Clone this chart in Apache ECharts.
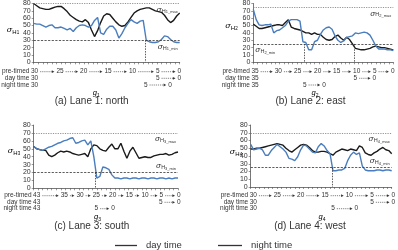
<!DOCTYPE html>
<html>
<head>
<meta charset="utf-8">
<script src="https://cdn.jsdelivr.net/npm/echarts@6/dist/echarts.min.js"></script>
<style>
html, body { margin: 0; padding: 0; background: #fff; }
#main { width: 398px; height: 250px; }
</style>
</head>
<body>
<div id="main"></div>
<script>
// sigma_H per lane, sampled evenly along the cycle (49 samples each)
var dayLane1 = [80,77,74,73,72,72,73.5,75,76,76,73,69,64,61,58,56,55,58,54,44,35,43,54,63,66,65,60,55,51,49,50,55,61,67,70,72,73,74,74,72,70,69,68,64,58,54,57,63,67];
var nightLane1 = [53,52,52,50,48,50,51,47,47,48,46,44,46,42,47,50,51,50,48,50,57,61,40,38,45,49,49,44,33,39,47,53,58,55,53,56,57,30,28,27,27,28,31,36,35,31,28,27,27];
var dayLane2 = [52,49,46,46,47,48,49,50,51,51,50,54,58,48,46,45,44,42,40,40,38,40,38,38,34,31,30,31,35,37,33,30,34,31,25,19,18,17,17,18,19,21,22,21,20,20,19,18,17];
var nightLane2 = [72,58,51,50,51,51,52,40,43,44,47,50,56,58,58,58,56,28,27,17,17,28,30,38,44,47,48,45,36,30,27,29,34,35,36,40,39,40,41,40,37,30,22,18,18,18,17,17,16];
var dayLane3 = [53,50,49,48,48,42,40,42,45,47,46,47,46,44,43,42,43,44,40,50,55,54,50,48,47,52,56,50,50,57,47,38,47,52,45,38,39,40,39,39,41,42,43,43,44,42,43,45,46];
var nightLane3 = [53,50,49,48,50,52,53,55,57,58,60,61,63,64,57,58,60,61,55,60,40,13,15,27,26,24,17,13,13,12,13,13,12,13,13,12,13,13,12,13,13,12,13,13,12,13,12,13,13];
var dayLane4 = [49,49,50,50,51,52,53,54,55,56,55,54,50,47,45,48,51,54,55,54,51,47,45,45,46,46,45,43,41,45,47,49,48,47,49,48,47,53,51,44,42,41,44,46,49,51,48,47,43];
var nightLane4 = [55,48,49,50,48,41,41,47,51,55,52,49,45,37,36,34,39,48,54,53,49,45,44,52,56,53,47,43,21,21,22,22,24,34,41,45,42,44,27,22,21,21,21,22,22,21,22,22,21];

// thresholds and switch points (x in sample index)
var sigmaMax = [80, 75, 70, 70];
var sigmaMin = [30, 25, 20, 25];
var switchAt = [[36.8], [17.5, 34.6], [20.5], [27.8]];

// green-time labels under each panel
var preTimed1 = [30,25,20,15,10,5,0], dayG1 = [30,5,0], nightG1 = [30,5,0];
var preTimed2 = [35,30,25,20,15,10,5,0], dayG2 = [35,5,0], nightG2 = [35,5,0];
var preTimed3 = [43,35,30,25,20,15,10,5,0], dayG3 = [43,5,0], nightG3 = [43,5,0];
var preTimed4 = [30,25,20,15,10,5,0], dayG4 = [30,5,0], nightG4 = [30,5,0];
var captions = ['(a) Lane 1: north', '(b) Lane 2: east', '(c) Lane 3: south', '(d) Lane 4: west'];

var FONT = '"Liberation Sans", Arial, sans-serif';
var BLACK = '#1a1a1a', BLUE = '#4a7dbd', TXT = '#333';

var panels = [
  { box: {left: 33.7, top: 0.7, width: 146, height: 61.6}, day: dayLane1, night: nightLane1,
    rows: [preTimed1, dayG1, nightG1], xs: [[34.5,60,83.7,108,132.5,157.7,179.3],[34.5,157.7,179.3],[34.5,145.7,170]],
    rowY: [71.7, 78.3, 85], gX: 96.3, gY: 92.7, capX: 91.7, capY: 101.7, nameX: 13, nameY: 30,
    minPos: 'insideEndBottom' },
  { box: {left: 253.3, top: 0.7, width: 140, height: 61.6}, day: dayLane2, night: nightLane2,
    rows: [preTimed2, dayG2, nightG2], xs: [[255,278.3,297.7,317.7,336.7,356.7,374.7,392.7],[255,355.3,374.3],[255,304.7,324]],
    rowY: [71.7, 78.3, 85], gX: 315, gY: 92.7, capX: 310.5, capY: 101.7, nameX: 231.5, nameY: 26,
    minPos: 'insideStartBottom' },
  { box: {left: 33.7, top: 125.1, width: 144.3, height: 63.2}, day: dayLane3, night: nightLane3,
    rows: [preTimed3, dayG3, nightG3], xs: [[36.7,64.3,80,96.3,112.7,129.3,145,161.3,178.8],[36.7,160.7,178.8],[36.7,96.3,113]],
    rowY: [195.7, 202.3, 208.7], gX: 97.5, gY: 216.7, capX: 91.7, capY: 226.3, nameX: 14, nameY: 151,
    minPos: 'insideEndTop' },
  { box: {left: 250.7, top: 125, width: 141, height: 62}, day: dayLane4, night: nightLane4,
    rows: [preTimed4, dayG4, nightG4], xs: [[253.3,277.3,300.7,325,349.3,372,393.3],[253.3,372,393.3],[253.3,333,356.3]],
    rowY: [195.7, 202.3, 208.7], gX: 322, gY: 217.3, capX: 310, capY: 226.3, nameX: 236, nameY: 152,
    minPos: 'insideEndTop' }
];
var rowTitles = ['pre-timed', 'day time', 'night time'];

function sigmaRich(big, small, tiny) {
  return {
    s: {fontSize: big, fontStyle: 'italic', fontFamily: 'DejaVu Serif', color: TXT},
    h: {fontSize: small, fontFamily: FONT, color: TXT, verticalAlign: 'bottom', padding: [small * 0.5, 0, 0, 0]},
    n: {fontSize: tiny, fontFamily: FONT, color: TXT, verticalAlign: 'bottom', padding: [tiny * 1.1, 0, 0, 0]}
  };
}

function txt(x, y, text, size, align, extra) {
  var st = {text: text, fontSize: size, fontFamily: FONT, fill: TXT, align: align || 'center', verticalAlign: 'middle'};
  if (extra) for (var k in extra) st[k] = extra[k];
  return {type: 'text', x: x, y: y, silent: true, style: st};
}

function numWidth(v) { return String(v).length * 3.6; }

var grids = [], xAxes = [], yAxes = [], series = [], graphics = [];

panels.forEach(function (p, k) {
  grids.push(p.box);
  xAxes.push({
    gridIndex: k, type: 'value', min: 0, max: 48, interval: 1.5,
    axisLabel: {show: false}, splitLine: {show: false},
    axisLine: {lineStyle: {color: '#555', width: 0.8}},
    axisTick: {length: 2, lineStyle: {color: '#555', width: 0.6}}
  });
  yAxes.push({
    gridIndex: k, type: 'value', min: 0, max: 80, interval: 10,
    splitLine: {show: false},
    axisLine: {show: true, lineStyle: {color: '#555', width: 0.8}},
    axisTick: {show: true, length: 2, lineStyle: {color: '#555', width: 0.6}},
    axisLabel: {fontSize: 7, margin: 3, color: TXT, fontFamily: FONT}
  });

  var lane = k + 1;
  var marks = [
    {yAxis: sigmaMax[k], lineStyle: {type: [1.2, 1.2], color: '#777', width: 0.8},
     label: {show: true, position: 'insideEndBottom', distance: 2,
             formatter: '{s|σ}{h|H}{n|' + lane + '_max}', rich: sigmaRich(7.5, 5.5, 4)}},
    {yAxis: sigmaMin[k], lineStyle: {type: [2.2, 1.4], color: '#333', width: 0.8},
     label: {show: true, position: p.minPos, distance: 2,
             formatter: '{s|σ}{h|H}{n|' + lane + '_min}', rich: sigmaRich(7.5, 5.5, 4)}}
  ];
  switchAt[k].forEach(function (sx) {
    marks.push([
      {coord: [sx, sigmaMin[k]], lineStyle: {type: [1.5, 1.2], color: '#333', width: 0.8}, label: {show: false}},
      {coord: [sx, 0]}
    ]);
  });

  series.push({
    type: 'line', name: 'day time', xAxisIndex: k, yAxisIndex: k,
    data: p.day.map(function (v, i) { return [i, v]; }),
    symbol: 'none', lineStyle: {color: BLACK, width: 1.4}, itemStyle: {color: BLACK},
    markLine: {silent: true, symbol: ['none', 'none'], animation: false, data: marks}
  });
  series.push({
    type: 'line', name: 'night time', xAxisIndex: k, yAxisIndex: k,
    data: p.night.map(function (v, i) { return [i, v]; }),
    symbol: 'none', lineStyle: {color: BLUE, width: 1.4}, itemStyle: {color: BLUE}
  });

  // y axis name
  graphics.push({type: 'text', x: p.nameX, y: p.nameY, silent: true,
    style: {text: '{s|σ}{h|H}{n|' + lane + '}', rich: sigmaRich(8, 6, 4.5), align: 'center', verticalAlign: 'middle'}});

  // rows of green-time labels with arrows
  p.rows.forEach(function (vals, r) {
    var xs = p.xs[r], y = p.rowY[r];
    graphics.push(txt(xs[0] - numWidth(vals[0]) / 2 - 1.5, y, rowTitles[r], 6.5, 'right'));
    vals.forEach(function (v, i) {
      graphics.push(txt(xs[i], y, String(v), 6.5, 'center'));
      if (i > 0 && (r === 0 || i > 1)) {
        var a = xs[i - 1] + numWidth(vals[i - 1]) / 2 + 2;
        var b = xs[i] - numWidth(v) / 2 - 2;
        graphics.push({type: 'line', silent: true, shape: {x1: a, y1: y, x2: b - 2, y2: y},
          style: {stroke: TXT, lineWidth: 0.6, lineDash: [1.2, 0.9]}});
        graphics.push({type: 'polygon', silent: true,
          shape: {points: [[b - 2.6, y - 1.4], [b, y], [b - 2.6, y + 1.4]]}, style: {fill: TXT}});
      }
    });
  });

  graphics.push({type: 'text', x: p.gX, y: p.gY, silent: true,
    style: {text: '{g|g}{n|' + lane + '}', align: 'center', verticalAlign: 'middle',
      rich: {g: {fontSize: 7.5, fontStyle: 'italic', fontFamily: FONT, color: TXT},
             n: {fontSize: 5, fontFamily: FONT, color: TXT, verticalAlign: 'bottom', padding: [5, 0, 0, 0]}}}});
  graphics.push(txt(p.capX, p.capY, captions[k], 10, 'center'));
});

var chart = echarts.init(document.getElementById('main'), null, {renderer: 'canvas'});
chart.setOption({
  animation: false,
  backgroundColor: '#fff',
  grid: grids,
  xAxis: xAxes,
  yAxis: yAxes,
  series: series,
  legend: [
    {data: [{name: 'day time', itemStyle: {color: '#333'}}],
     icon: 'rect', left: 110, top: 235.5, itemWidth: 22, itemHeight: 1.3, selectedMode: false,
     textStyle: {fontSize: 9.5, color: TXT, fontFamily: FONT, padding: [0, 0, 0, 4]}},
    {data: [{name: 'night time', itemStyle: {color: '#333'}}],
     icon: 'rect', left: 213, top: 235.5, itemWidth: 24, itemHeight: 1.3, selectedMode: false,
     textStyle: {fontSize: 9.5, color: TXT, fontFamily: FONT, padding: [0, 0, 0, 4]}}
  ],
  graphic: graphics
});
</script>
</body>
</html>
